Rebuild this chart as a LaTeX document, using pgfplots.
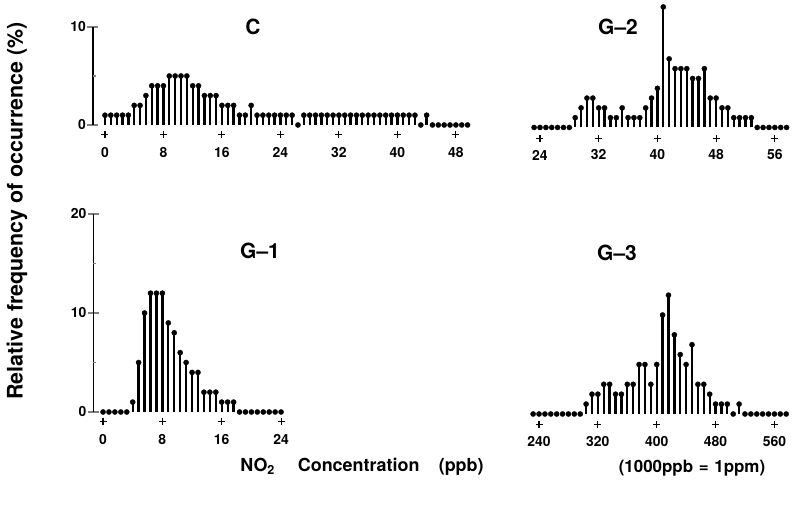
\documentclass[border=0pt]{standalone}
\usepackage{fontspec}
\setmainfont{TeX Gyre Heros}
\usepackage{pgfplots}
\usepackage{pgfplotstable}
\pgfplotsset{compat=1.18}

\pgfplotstableread{
x y
0 1
0.8 1
1.6 1
2.4 1
3.2 1
4.0 2
4.8 2
5.6 3
6.4 4
7.2 4
8.0 4
8.8 5
9.6 5
10.4 5
11.2 5
12.0 4
12.8 4
13.6 3
14.4 3
15.2 3
16.0 2
16.8 2
17.6 2
18.4 1
19.2 1
20.0 2
20.8 1
21.6 1
22.4 1
23.2 1
24.0 1
24.8 1
25.6 1
26.4 0
27.2 1
28.0 1
28.8 1
29.6 1
30.4 1
31.2 1
32.0 1
32.8 1
33.6 1
34.4 1
35.2 1
36.0 1
36.8 1
37.6 1
38.4 1
39.2 1
40.0 1
40.8 1
41.6 1
42.4 1
43.2 0
44.0 1
44.8 0
45.6 0
46.4 0
47.2 0
48.0 0
48.8 0
49.6 0
}\dataC

\pgfplotstableread{
x y
23.2 0
24.0 0
24.8 0
25.6 0
26.4 0
27.2 0
28.0 0
28.8 1
29.6 2
30.4 3
31.2 3
32.0 2
32.8 2
33.6 1
34.4 1
35.2 2
36.0 1
36.8 1
37.6 1
38.4 2
39.2 3
40.0 4
40.8 12.3
41.6 7
42.4 6
43.2 6
44.0 6
44.8 5
45.6 5
46.4 6
47.2 3
48.0 3
48.8 2
49.6 2
50.4 1
51.2 1
52.0 1
52.8 1
53.6 0
54.4 0
55.2 0
56.0 0
56.8 0
57.6 0
}\dataGtwo

\pgfplotstableread{
x y
0 0
0.8 0
1.6 0
2.4 0
3.2 0
4.0 1
4.8 5
5.6 10
6.4 12
7.2 12
8.0 12
8.8 9
9.6 8
10.4 6
11.2 5
12.0 4
12.8 4
13.6 2
14.4 2
15.2 2
16.0 1
16.8 1
17.6 1
18.4 0
19.2 0
20.0 0
20.8 0
21.6 0
22.4 0
23.2 0
24.0 0
}\dataGone

\pgfplotstableread{
x y
232 0
240 0
248 0
256 0
264 0
272 0
280 0
288 0
296 0
304 1
312 2
320 2
328 3
336 3
344 2
352 2
360 3
368 3
376 5
384 5
392 3
400 5
408 10
416 12
424 8
432 6
440 5
448 7
456 3
464 3
472 2
480 1
488 1
496 1
504 0
512 1
520 0
528 0
536 0
544 0
552 0
560 0
568 0
576 0
}\dataGthree

\begin{document}
\begin{tikzpicture}[x=1bp,y=1bp]
\useasboundingbox (0,0) rectangle (792,513);
\pgfplotsset{
  panel/.style={scale only axis, clip=false, anchor=south west,
    /pgf/number format/assume math mode=true,
    tick label style={font=\bfseries\fontsize{14}{14}\selectfont},
    xtick style={draw=none}, major tick length=11bp, tick align=center,
    xticklabel style={anchor=center, yshift=-22bp},
    yticklabel style={anchor=east, xshift=2bp},
    axis line style={line width=1.6bp}, ytick style={line width=1.3bp},
  },
  stems/.style={ycomb, black, line width=2.3bp, mark=*, mark size=2.6bp,
    mark options={fill=black, line width=0.3bp}},
  pluses/.style={only marks, mark=+, mark size=3.5bp, black, line width=1.1bp},
}

% Panel C
\begin{axis}[panel, at={(92.9bp,388bp)}, width=377.6bp, height=98bp,
  xmin=-1.65, xmax=50, ymin=0, ymax=10,
  axis lines*=left, x axis line style={draw=none},
  xtick={0,8,...,48}, ytick={0,10},
  extra y ticks={5}, extra y tick labels={},
  extra y tick style={tick align=inside, major tick length=3bp}]
\addplot[stems] table[x=x,y=y]{\dataC};
\addplot[pluses] coordinates {(0,-1) (8,-1) (16,-1) (24,-1) (32,-1) (40,-1) (48,-1)};
\end{axis}

% Panel G-2
\begin{axis}[panel, at={(525.3bp,385.5bp)}, width=264.2bp, height=98bp,
  xmin=22, xmax=58, ymin=0, ymax=10,
  axis x line*=bottom, axis y line=none, x axis line style={draw=none},
  xtick={24,32,...,56}, ytick=\empty]
\addplot[stems] table[x=x,y=y]{\dataGtwo};
\addplot[pluses] coordinates {(24,-1.1) (32,-1.1) (40,-1.1) (48,-1.1) (56,-1.1)};
\end{axis}

% Panel G-1
\begin{axis}[panel, at={(93.3bp,101bp)}, width=195.2bp, height=198bp,
  xmin=-1.31, xmax=25, ymin=0, ymax=20,
  axis lines*=left, x axis line style={draw=none},
  xtick={0,8,16,24}, ytick={0,10,20},
  extra y ticks={5,15}, extra y tick labels={},
  extra y tick style={tick align=inside, major tick length=3bp}]
\addplot[stems] table[x=x,y=y]{\dataGone};
\addplot[pluses] coordinates {(0,-1) (8,-1) (16,-1) (24,-1)};
\end{axis}

% Panel G-3
\begin{axis}[panel, at={(524.3bp,99bp)}, width=264.8bp, height=99bp,
  xmin=220, xmax=580, ymin=0, ymax=10,
  axis x line*=bottom, axis y line=none, x axis line style={draw=none},
  xtick={240,320,...,560}, ytick=\empty]
\addplot[stems] table[x=x,y=y]{\dataGthree};
\addplot[pluses] coordinates {(240,-1.1) (320,-1.1) (400,-1.1) (480,-1.1) (560,-1.1)};
\end{axis}

\node[font=\bfseries\fontsize{21}{21}\selectfont] at (253,486) {C};
\node[font=\bfseries\fontsize{21}{21}\selectfont] at (618,486) {G\textendash 2};
\node[font=\bfseries\fontsize{21}{21}\selectfont] at (260,262) {G\textendash 1};
\node[font=\bfseries\fontsize{21}{21}\selectfont] at (617,260) {G\textendash 3};

\node[rotate=90, font=\bfseries\fontsize{21.5}{21.5}\selectfont] at (17,302) {Relative frequency of occurrence (\%)};
\node[font=\bfseries\fontsize{18}{18}\selectfont] at (362,46) {NO\textsubscript{2}\hspace{1em} Concentration\hspace{0.8em} (ppb)};
\node[font=\bfseries\fontsize{17}{17}\selectfont] at (692,45) {(1000ppb\,\,=\,\,1ppm)};
\end{tikzpicture}
\end{document}
